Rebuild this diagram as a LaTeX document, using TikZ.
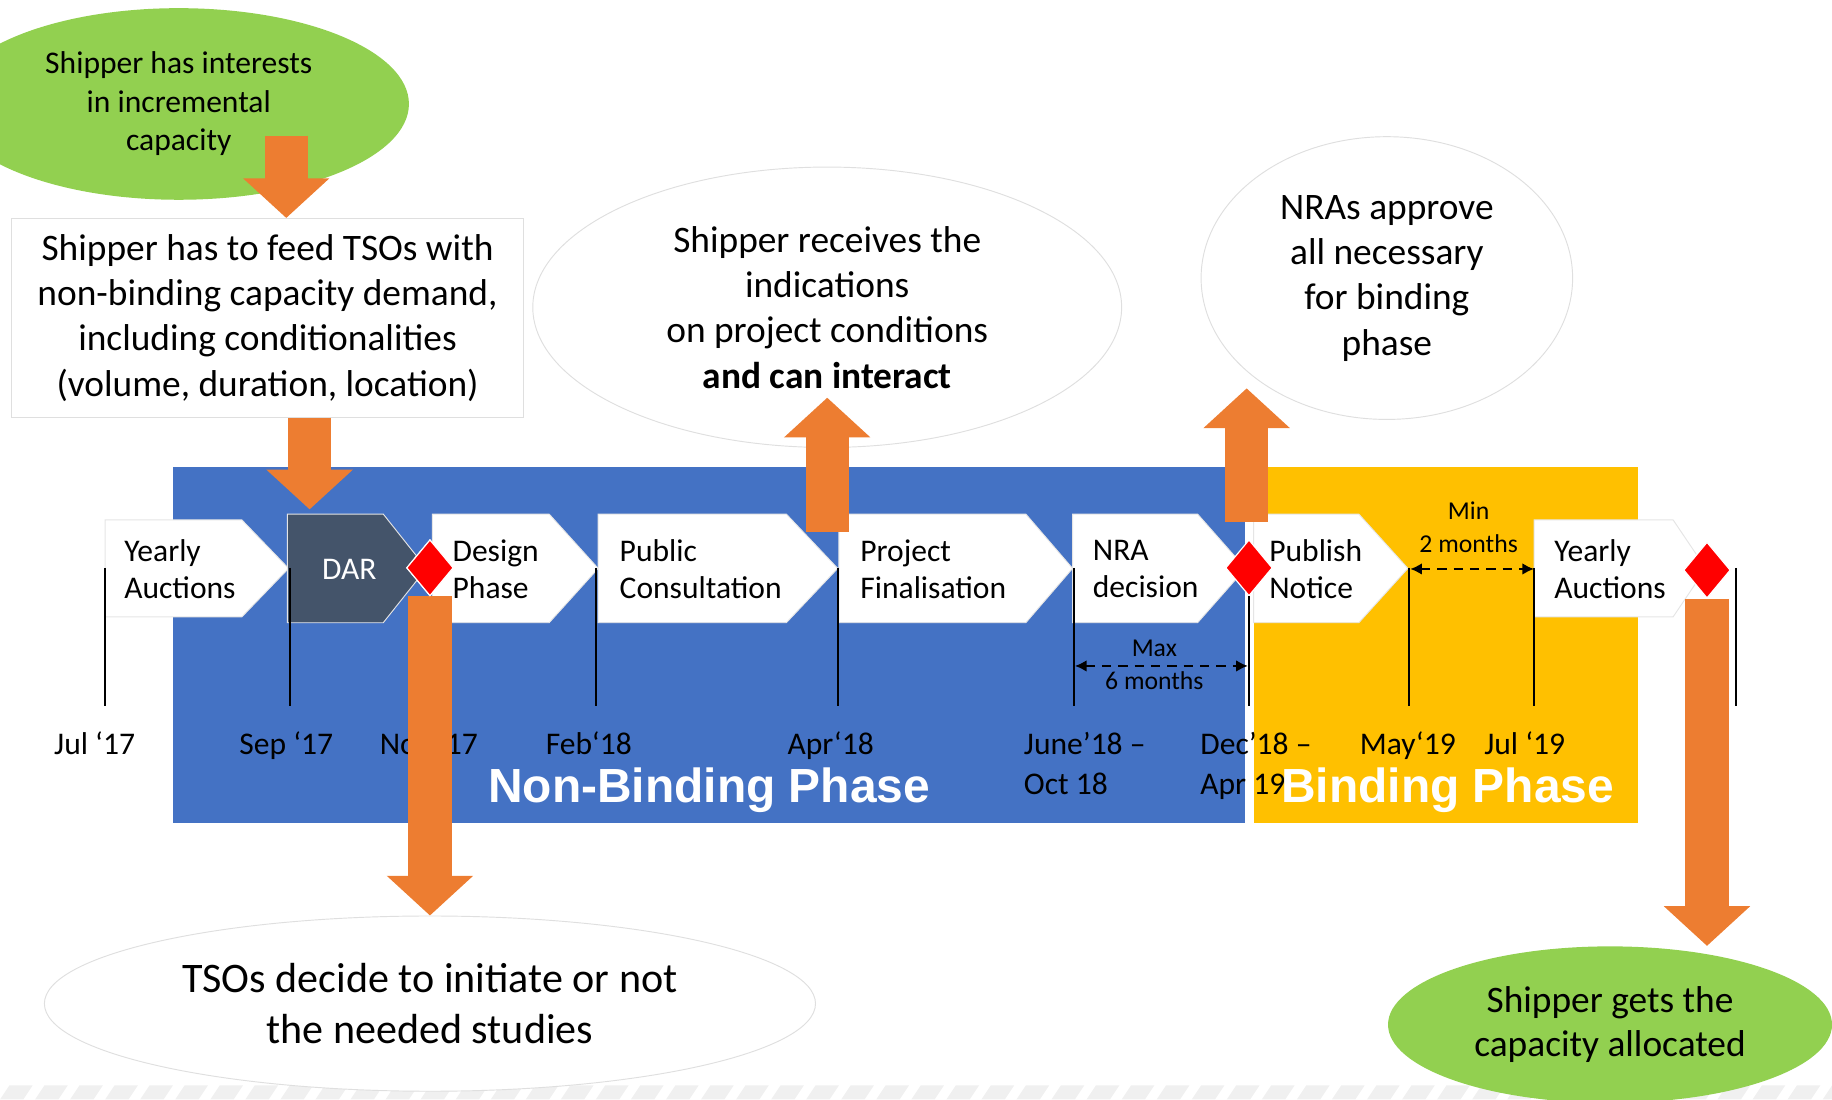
\documentclass[tikz,border=0pt]{standalone}
\usepackage{fontspec}
\setmainfont{Carlito}
\newfontfamily\phasefont{Liberation Sans}
\usepackage{xcolor}
\usepackage{tikz}
\usetikzlibrary{arrows.meta, shapes.geometric, positioning, calc}
\definecolor{nbblue}{HTML}{4472C4}
\definecolor{bphase}{HTML}{FFC000}
\definecolor{dargray}{HTML}{44546A}
\definecolor{orng}{HTML}{ED7D31}
\definecolor{lgreen}{HTML}{92D050}

\begin{document}
\begin{tikzpicture}[
  x=0.5pt, y=0.5pt,
  bubble/.style={ellipse, draw=gray!25, fill=white, align=center,
    inner sep=0pt, font=\fontsize{16}{19.4}\selectfont},
  shipbub/.style={ellipse, fill=lgreen, align=center,
    inner sep=0pt, font=\fontsize{16}{19}\selectfont},
  feedbox/.style={rectangle, draw=gray!25, fill=white, align=center,
    inner sep=0pt, font=\fontsize{16}{19.4}\selectfont},
  chevtxt/.style={anchor=west, align=left, inner sep=0pt,
    font=\fontsize{13.5}{16}\selectfont},
  datelbl/.style={anchor=base, inner sep=0pt, align=left,
    font=\fontsize{13.5}{17}\selectfont},
  spanlbl/.style={inner sep=0pt, font=\fontsize{11}{13}\selectfont},
  phase/.style={text=white, inner sep=0pt,
    font=\phasefont\bfseries\fontsize{20.5}{24}\selectfont},
  milestone/.style={diamond, fill=red, draw=white, line width=0.5pt,
    minimum width=20pt, minimum height=24pt, inner sep=0pt},
  tick/.style={black, line width=0.9pt},
  span/.style={black, line width=0.9pt, dash pattern=on 4pt off 3pt,
    {Latex[length=5pt,width=5pt]}-{Latex[length=5pt,width=5pt]}},
  blk/.style={draw=orng, line width=18.5pt, -{Triangle[length=17pt,width=36pt]}}
]
\useasboundingbox (0,0) rectangle (1568,941);

\foreach \hx in {0,30,...,1560}
  \fill[gray!12] (\hx,0) -- (\hx+20,0) -- (\hx+28,12) -- (\hx+8,12) -- cycle;

\fill[nbblue] (148,237) rectangle (1066,541);
\fill[bphase] (1073,237) rectangle (1402,541);

\foreach \xl/\xp/\xr/\yt/\yb/\col in {90/207/247/496/413/white,
    246/328/365/501/408/dargray, 370/470/512/501/408/white,
    512/673/717/501/408/white, 718/878/918/501/408/white,
    918/1025/1066/501/408/white, 1073/1163/1205/501/408/white,
    1313/1432/1460/496/413/white}
  \filldraw[fill=\col, draw=gray!20, line width=0.4pt]
    (\xl,\yt) -- (\xp,\yt) -- (\xr,{(\yt+\yb)/2}) -- (\xp,\yb) -- (\xl,\yb) -- cycle;

\node[chevtxt] (ya1) at (106,454) {Yearly\\Auctions};
\node[chevtxt, anchor=center, text=white] (dar) at (299,454) {DAR};
\node[chevtxt] (design) at (387,454) {Design\\Phase};
\node[chevtxt] (public) at (530,454) {Public\\Consultation};
\node[chevtxt] (project) at (736,454) {Project\\Finalisation};
\node[chevtxt] (nradec) at (935,454) {NRA\\decision};
\node[chevtxt] (publish) at (1086,454) {Publish\\Notice};
\node[chevtxt] (ya2) at (1330,454) {Yearly\\Auctions};

\node[milestone] (m1) at (368,455) {};
\node[milestone] (m2) at (1069,455) {};
\node[milestone] (m3) at (1461,453) {};

\foreach \tx in {90,248,510,717,919,1206,1313,1486}
  \draw[tick] (\tx,455) -- (\tx,337);
\draw[tick] (m2.south) -- (m2.south |- 0,337);

\node[datelbl] (d1) at (81,295) {Jul ‘17};
\node[datelbl] (d2) at (245,295) {Sep ‘17};
\node[datelbl] (d3) at (367,295) {Nov ‘17};
\node[datelbl] (d4) at (504,295) {Feb‘18};
\node[datelbl] (d5) at (711,295) {Apr‘18};
\node[datelbl, anchor=base west] (d6) at (876,261) {June’18 –\\Oct 18};
\node[datelbl, anchor=base west] (d7) at (1027,261) {Dec’18 –\\Apr 19};
\node[datelbl] (d8) at (1205,295) {May‘19};
\node[datelbl] (d9) at (1305,295) {Jul ‘19};

\node[phase] (nbp) at (607,265) {Non-Binding Phase};
\node[phase] (bp) at (1239,265) {Binding Phase};

\coordinate (mx1) at (920,371);
\coordinate (mx2) at (1068,371);
\draw[span] (mx1) -- (mx2);
\node[spanlbl] (maxl) at (988,386) {Max};
\node[spanlbl] (sixm) at (988,358) {6 months};
\coordinate (mn1) at (1207,454);
\coordinate (mn2) at (1313,454);
\draw[span] (mn1) -- (mn2);
\node[spanlbl] (minl) at (1257,504) {Min};
\node[spanlbl] (twom) at (1257,476) {2 months};

\node[shipbub, minimum width=197pt, minimum height=82pt,
  font=\fontsize{13.5}{16.5}\selectfont] (interest) at (153,852)
  {Shipper has interests\\in incremental\\capacity};
\node[feedbox, minimum width=219pt, minimum height=85pt] (feed) at (229,669)
  {Shipper has to feed TSOs with\\non-binding capacity demand,\\including conditionalities\\(volume, duration, location)};
\node[bubble, minimum width=252pt, minimum height=120pt] (indic) at (708,678)
  {Shipper receives the\\indications\\on project conditions\\\textbf{and can interact}};
\node[bubble, minimum width=159pt, minimum height=121pt] (nra) at (1187,703)
  {NRAs approve\\all necessary\\for binding\\phase};
\node[bubble, minimum width=330pt, minimum height=75pt,
  font=\fontsize{18}{21.5}\selectfont] (studies) at (368,82)
  {TSOs decide to initiate or not\\the needed studies};
\node[shipbub, minimum width=190pt, minimum height=67pt] (alloc) at (1378,64)
  {Shipper gets the\\capacity allocated};

\coordinate (a1) at (245,825);
\coordinate (dartop) at (265,505);
\coordinate (pcend) at (708,486);
\coordinate (nrabase) at (1067,494);
\draw[blk] (a1) -- (a1 |- feed.north);
\draw[blk] (feed.south -| dartop) -- (dartop);
\draw[blk] (pcend) -- ($(indic.south)+(0,43)$);
\draw[blk] (nrabase) -- ($(nrabase |- nra.south)+(0,27)$);
\draw[blk] (m1.south) -- (studies.north);
\draw[blk] (m3.south) -- (m3.south |- alloc.north);

\node[milestone] at (m1) {};
\node[milestone] at (m3) {};
\end{tikzpicture}
\end{document}
